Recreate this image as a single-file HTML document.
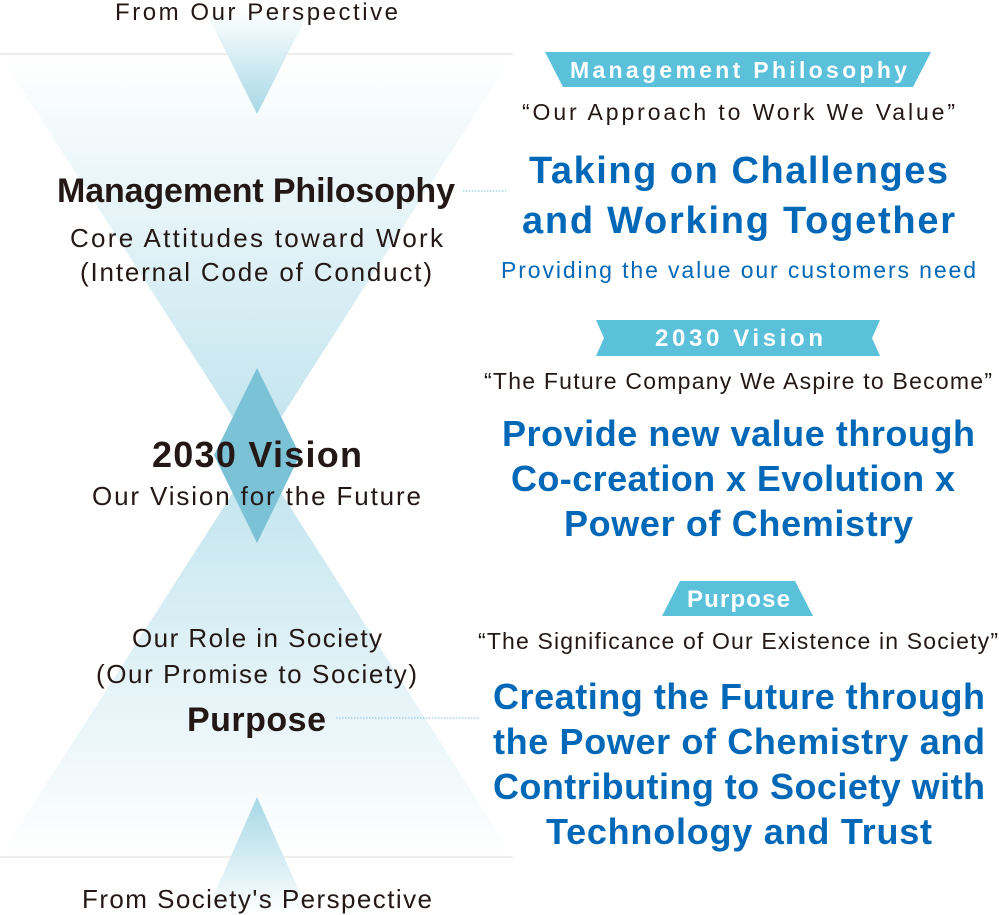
<!DOCTYPE html>
<html><head><meta charset="utf-8"><style>
html,body{margin:0;padding:0;background:#fff}
svg{display:block}
text{font-family:"Liberation Sans",sans-serif}
.d{fill:#231815}
.b{fill:#0068b7;font-weight:bold}
.w{fill:#fff;font-weight:bold}
</style></head><body>
<svg width="999" height="915" viewBox="0 0 999 915" xmlns="http://www.w3.org/2000/svg">
<defs>
<linearGradient id="gt" x1="0" y1="0" x2="0" y2="1"><stop offset="0" stop-color="#fff"/><stop offset="1" stop-color="#bfe3ed"/></linearGradient>
<linearGradient id="gb" x1="0" y1="1" x2="0" y2="0"><stop offset="0" stop-color="#fff"/><stop offset="1" stop-color="#bfe3ed"/></linearGradient>
<linearGradient id="st" x1="0" y1="0" x2="0" y2="1"><stop offset="0" stop-color="#fff"/><stop offset="1" stop-color="#a6d8e6"/></linearGradient>
<linearGradient id="sb" x1="0" y1="1" x2="0" y2="0"><stop offset="0" stop-color="#fff"/><stop offset="1" stop-color="#a6d8e6"/></linearGradient>
</defs>
<line x1="0" y1="54" x2="513" y2="54" stroke="#eeeeee" stroke-width="2"/>
<line x1="0" y1="857" x2="513" y2="857" stroke="#eeeeee" stroke-width="2"/>
<polygon points="0,55 513,55 257,455" fill="url(#gt)"/>
<polygon points="0,856 513,856 257,455" fill="url(#gb)"/>
<polygon points="205,10 310,10 257,114" fill="url(#st)"/>
<polygon points="205,915 310,915 257,797" fill="url(#sb)"/>
<polygon points="257,368 300,455 257,543 214,455" fill="#7cc2d7"/>

<line x1="463" y1="191" x2="506" y2="191" stroke="#7ec3e6" stroke-width="1" stroke-dasharray="1.5,1.5"/>
<line x1="336" y1="718" x2="479" y2="718" stroke="#7ec3e6" stroke-width="1" stroke-dasharray="1.5,1.5"/>

<text class="d" x="115" y="20" font-size="24" textLength="283">From Our Perspective</text>
<text class="d" x="57" y="202" font-size="34" font-weight="bold" style="font-weight:600" textLength="398">Management Philosophy</text>
<text class="d" x="70" y="247" font-size="26" textLength="373">Core Attitudes toward Work</text>
<text class="d" x="80" y="281" font-size="26" textLength="352">(Internal Code of Conduct)</text>
<text class="d" x="152" y="467" font-size="36" style="font-weight:600" textLength="210">2030 Vision</text>
<text class="d" x="92" y="505" font-size="26" textLength="329">Our Vision for the Future</text>
<text class="d" x="132" y="647" font-size="26" textLength="250">Our Role in Society</text>
<text class="d" x="96" y="683" font-size="26" textLength="321">(Our Promise to Society)</text>
<text class="d" x="187" y="731" font-size="34" style="font-weight:600" textLength="139">Purpose</text>
<text class="d" x="82" y="908" font-size="26" textLength="350">From Society's Perspective</text>

<polygon points="545,52 931,52 913,87 563,87" fill="#5bc0da"/>
<text class="w" x="570" y="78" font-size="23" textLength="337">Management Philosophy</text>
<text class="d" x="522" y="120" font-size="23" textLength="433">“Our Approach to Work We Value”</text>
<text class="b" x="529" y="183" font-size="38" textLength="419">Taking on Challenges</text>
<text class="b" x="522" y="233" font-size="38" textLength="433">and Working Together</text>
<text x="501" y="278" font-size="23" fill="#0068b7" textLength="475">Providing the value our customers need</text>

<polygon points="596,320 880,320 872,338 880,356 596,356 604,338" fill="#5bc0da"/>
<text class="w" x="655" y="346" font-size="24" textLength="168">2030 Vision</text>
<text class="d" x="484" y="389" font-size="23" textLength="508">“The Future Company We Aspire to Become”</text>
<text class="b" x="502" y="446" font-size="36" textLength="473">Provide new value through</text>
<text class="b" x="511" y="491" font-size="36" textLength="444">Co-creation x Evolution x</text>
<text class="b" x="564" y="536" font-size="36" textLength="349">Power of Chemistry</text>

<polygon points="680,581 795,581 813,616 662,616" fill="#5bc0da"/>
<text class="w" x="687" y="607" font-size="24" textLength="103">Purpose</text>
<text class="d" x="478" y="649" font-size="23" textLength="520">“The Significance of Our Existence in Society”</text>
<text class="b" x="493" y="709" font-size="36" textLength="492">Creating the Future through</text>
<text class="b" x="493" y="754" font-size="36" textLength="492">the Power of Chemistry and</text>
<text class="b" x="493" y="799" font-size="36" textLength="492">Contributing to Society with</text>
<text class="b" x="546" y="844" font-size="36" textLength="386">Technology and Trust</text>
</svg>
</body></html>
